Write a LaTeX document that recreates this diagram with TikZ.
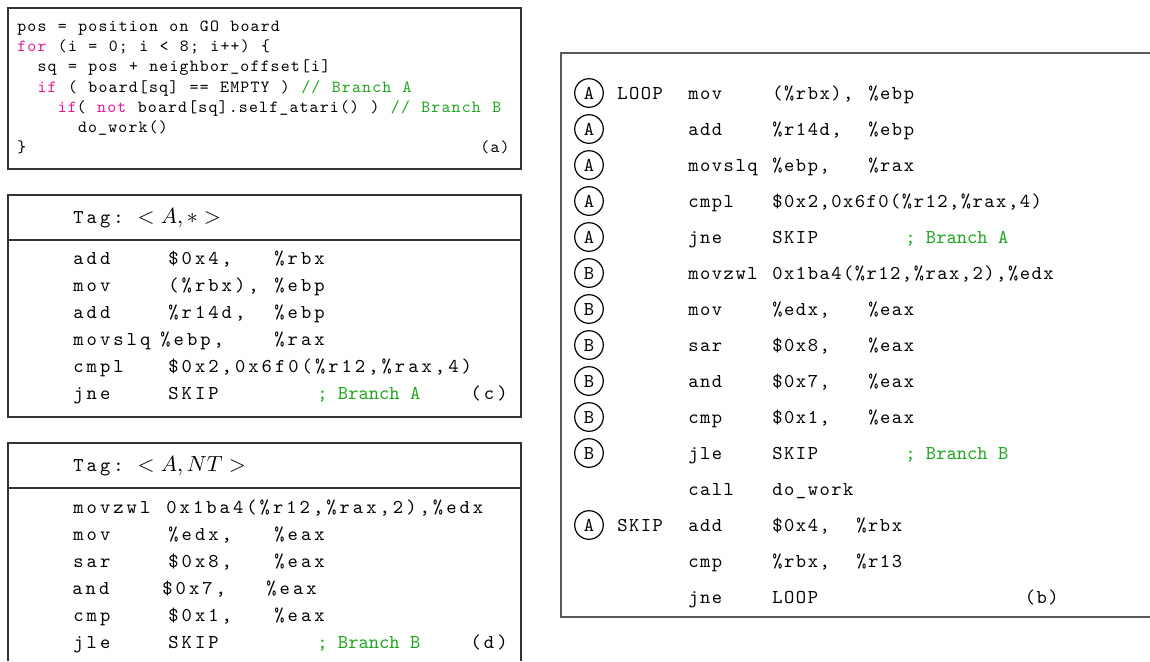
\documentclass[tikz,border=0pt]{standalone}
\usepackage{fontspec}
\newfontfamily\srctt{lmmono10-regular.otf}[LetterSpace=7,WordSpace=1.13]
\newfontfamily\asmtt{lmmono10-regular.otf}[LetterSpace=7.6,WordSpace=1.15]
\newfontfamily\blktt{lmmono10-regular.otf}[LetterSpace=15.5,WordSpace=1.3]
\newfontfamily\plaintt{lmmono10-regular.otf}
\usetikzlibrary{positioning}

\definecolor{kwpink}{RGB}{232,20,150}
\definecolor{cmtgreen}{RGB}{30,165,30}

\newcommand\srcfont{\srctt\fontsize{8.5}{10}\selectfont}
\newcommand\asmfont{\asmtt\fontsize{9.8}{12}\selectfont}
\newcommand\blkfont{\blktt\fontsize{9.8}{12}\selectfont}
\newcommand\kw[1]{\textcolor{kwpink}{#1}}
\newcommand\cmt[1]{\textcolor{cmtgreen}{#1}}
\newcommand\asmcmt[1]{\textcolor{cmtgreen}{\plaintt#1}}
\newcommand\tagm[1]{\hspace{7pt}{\fontsize{11}{13}\selectfont$#1$}}

\tikzset{
  boxline/.style={draw=black!80, line width=0.75pt},
  listbox/.style={draw=black!65, line width=1pt},
  srcline/.style={anchor=base west, inner sep=0pt, font=\srcfont},
  blkcell/.style={anchor=west, inner sep=0pt, text height=6pt, text depth=0pt, font=\blkfont},
  asmcell/.style={anchor=west, inner sep=0pt, text height=6pt, text depth=0pt, font=\asmfont},
  tagmark/.style={circle, draw, line width=0.6pt, minimum size=14.3pt, inner sep=0pt, font=\asmfont},
}

\begin{document}
\begin{tikzpicture}[x=0.5pt,y=-0.5pt]
  \useasboundingbox (0,0) rectangle (1150,661);

  % (a) source of the loop
  \draw[boxline] (8,8) rectangle (521,169);
  \node[srcline] (pos) at (17,31.5) {pos = position on GO board};
  \node[srcline] (for) at (17,51.7) {\kw{for} (i = 0; i < 8; i++) \{};
  \node[srcline] (sq) at (37.2,71.9) {sq = pos + neighbor\_offset[i]};
  \node[srcline] (ifA) at (37.2,92.1) {\kw{if} ( board[sq] == EMPTY ) \cmt{// Branch A}};
  \node[srcline] (ifB) at (57.4,112.3) {\kw{if}( \kw{not} board[sq].self\_atari() ) \cmt{// Branch B}};
  \node[srcline] (work) at (77.6,132.5) {do\_work()};
  \node[srcline] (close) at (17,152.7) {\}};
  \node[srcline, anchor=base east] (capa) at (510,152.7) {(a)};

  % (c) block tagged <A,*>
  \draw[boxline] (8,195) rectangle (521,417);
  \draw[boxline] (8,240) -- (521,240);
  \node[blkcell] (tagc) at (73,217) {Tag:\tagm{<A,*>}};
  \node[blkcell] (c1) at (73,258) {add};
  \node[blkcell] (c1a) at (168,258) {\$0x4,};
  \node[blkcell] (c1b) at (274,258) {\%rbx};
  \node[blkcell] (c2) at (73,285) {mov};
  \node[blkcell] (c2a) at (168,285) {(\%rbx),};
  \node[blkcell] (c2b) at (274,285) {\%ebp};
  \node[blkcell] (c3) at (73,312) {add};
  \node[blkcell] (c3a) at (168,312) {\%r14d,};
  \node[blkcell] (c3b) at (274,312) {\%ebp};
  \node[blkcell] (c4) at (73,339) {movslq};
  \node[blkcell] (c4a) at (160,339) {\%ebp,};
  \node[blkcell] (c4b) at (274,339) {\%rax};
  \node[blkcell] (c5) at (73,366) {cmpl};
  \node[blkcell] (c5a) at (168,366) {\$0x2,0x6f0(\%r12,\%rax,4)};
  \node[blkcell] (c6) at (73,393) {jne};
  \node[blkcell] (c6a) at (168,393) {SKIP};
  \node[blkcell] (c6c) at (317,393) {\asmcmt{; Branch A}};
  \node[blkcell, anchor=east] (capc) at (508,393) {(c)};

  % (d) block tagged <A,NT>
  \draw[boxline] (8,661) -- (8,443) -- (521,443) -- (521,661);
  \draw[boxline] (8,488) -- (521,488);
  \node[blkcell] (tagd) at (73,465) {Tag:\tagm{<A,NT>}};
  \node[blkcell] (d1) at (73,507) {movzwl};
  \node[blkcell] (d1a) at (166,507) {0x1ba4(\%r12,\%rax,2),\%edx};
  \node[blkcell] (d2) at (73,534) {mov};
  \node[blkcell] (d2a) at (168,534) {\%edx,};
  \node[blkcell] (d2b) at (274,534) {\%eax};
  \node[blkcell] (d3) at (73,561) {sar};
  \node[blkcell] (d3a) at (168,561) {\$0x8,};
  \node[blkcell] (d3b) at (274,561) {\%eax};
  \node[blkcell] (d4) at (72,588) {and};
  \node[blkcell] (d4a) at (162,588) {\$0x7,};
  \node[blkcell] (d4b) at (266,588) {\%eax};
  \node[blkcell] (d5) at (73,615) {cmp};
  \node[blkcell] (d5a) at (168,615) {\$0x1,};
  \node[blkcell] (d5b) at (274,615) {\%eax};
  \node[blkcell] (d6) at (73,642) {jle};
  \node[blkcell] (d6a) at (168,642) {SKIP};
  \node[blkcell] (d6c) at (317,642) {\asmcmt{; Branch B}};
  \node[blkcell, anchor=east] (capd) at (508,642) {(d)};

  % (b) whole loop with branch tags
  \draw[listbox] (1150,53) -- (561,53) -- (561,617) -- (1150,617);
  \foreach \t [count=\r from 0] in {A,A,A,A,A,B,B,B,B,B,B}
    \node[tagmark] (tag\r) at (589,93+36*\r) {\t};
  \node[tagmark] (tag12) at (589,525) {A};
  \node[asmcell] (loop) at (617,93) {LOOP};
  \node[asmcell] (skip) at (617,525) {SKIP};

  \node[asmcell] (b0) at (688,93) {mov};
  \node[asmcell] (b0a) at (772,93) {(\%rbx),};
  \node[asmcell] (b0b) at (868,93) {\%ebp};
  \node[asmcell] (b1) at (688,129) {add};
  \node[asmcell] (b1a) at (772,129) {\%r14d,};
  \node[asmcell] (b1b) at (868,129) {\%ebp};
  \node[asmcell] (b2) at (688,165) {movslq};
  \node[asmcell] (b2a) at (772,165) {\%ebp,};
  \node[asmcell] (b2b) at (868,165) {\%rax};
  \node[asmcell] (b3) at (688,201) {cmpl};
  \node[asmcell] (b3a) at (772,201) {\$0x2,0x6f0(\%r12,\%rax,4)};
  \node[asmcell] (b4) at (688,237) {jne};
  \node[asmcell] (b4a) at (772,237) {SKIP};
  \node[asmcell] (b4c) at (905,237) {\asmcmt{; Branch A}};
  \node[asmcell] (b5) at (688,273) {movzwl};
  \node[asmcell] (b5a) at (772,273) {0x1ba4(\%r12,\%rax,2),\%edx};
  \node[asmcell] (b6) at (688,309) {mov};
  \node[asmcell] (b6a) at (772,309) {\%edx,};
  \node[asmcell] (b6b) at (868,309) {\%eax};
  \node[asmcell] (b7) at (688,345) {sar};
  \node[asmcell] (b7a) at (772,345) {\$0x8,};
  \node[asmcell] (b7b) at (868,345) {\%eax};
  \node[asmcell] (b8) at (688,381) {and};
  \node[asmcell] (b8a) at (772,381) {\$0x7,};
  \node[asmcell] (b8b) at (868,381) {\%eax};
  \node[asmcell] (b9) at (688,417) {cmp};
  \node[asmcell] (b9a) at (772,417) {\$0x1,};
  \node[asmcell] (b9b) at (868,417) {\%eax};
  \node[asmcell] (b10) at (688,453) {jle};
  \node[asmcell] (b10a) at (772,453) {SKIP};
  \node[asmcell] (b10c) at (905,453) {\asmcmt{; Branch B}};
  \node[asmcell] (b11) at (688,489) {call};
  \node[asmcell] (b11a) at (772,489) {do\_work};
  \node[asmcell] (b12) at (688,525) {add};
  \node[asmcell] (b12a) at (772,525) {\$0x4,};
  \node[asmcell] (b12b) at (856,525) {\%rbx};
  \node[asmcell] (b13) at (688,561) {cmp};
  \node[asmcell] (b13a) at (772,561) {\%rbx,};
  \node[asmcell] (b13b) at (856,561) {\%r13};
  \node[asmcell] (b14) at (688,597) {jne};
  \node[asmcell] (b14a) at (772,597) {LOOP};
  \node[asmcell, anchor=east] (capb) at (1059,597) {(b)};
\end{tikzpicture}
\end{document}
